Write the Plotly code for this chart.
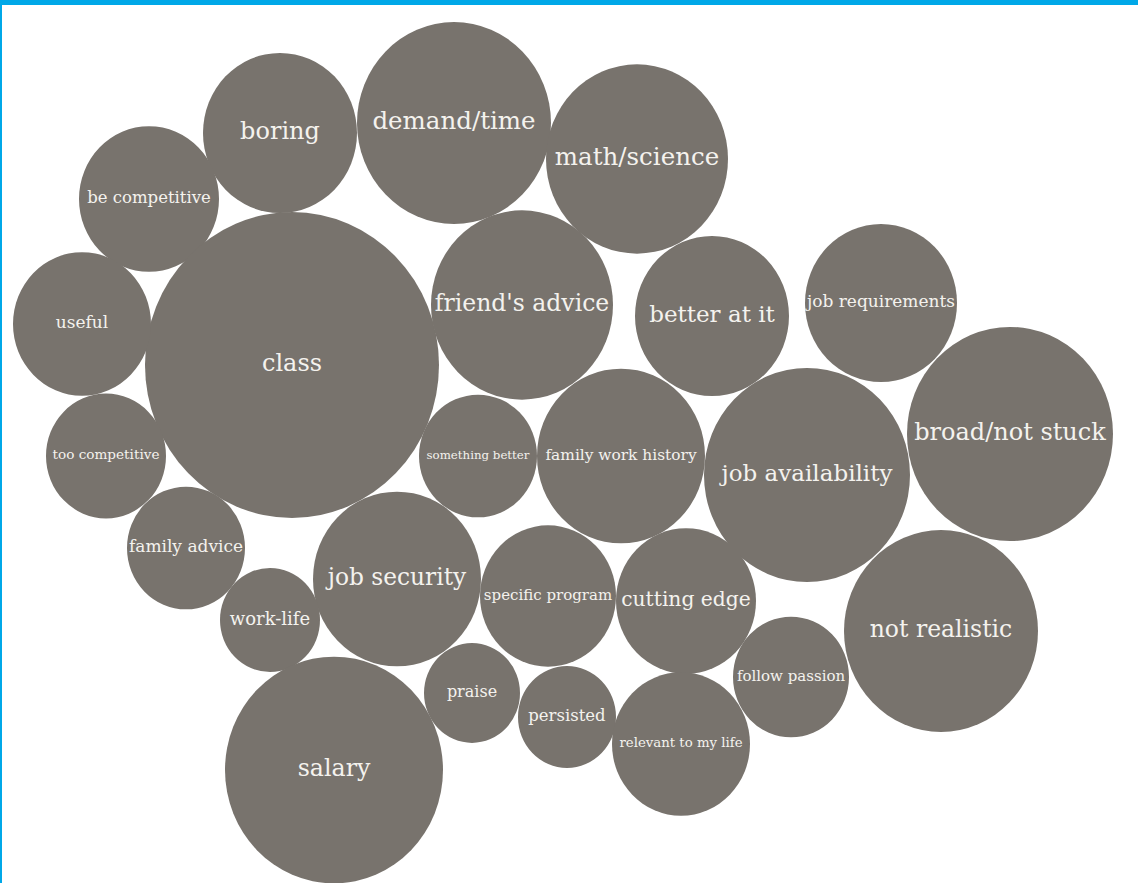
import plotly.graph_objects as go

labels = ["boring", "demand/time", "math/science", "be competitive", "class", "useful",
          "friend's advice", "better at it", "job requirements", "broad/not stuck",
          "too competitive", "something better", "family work history", "job availability",
          "family advice", "job security", "specific program", "cutting edge", "not realistic",
          "work-life", "follow passion", "praise", "persisted", "relevant to my life", "salary"]
cx = [280, 454, 637, 149, 292, 82, 522, 712, 881, 1010, 106, 478, 621, 807, 186, 397, 548, 686,
      941, 270, 791, 472, 567, 681, 334]
cy = [133, 123, 159, 199, 365, 324, 305, 316, 303, 434, 456, 456, 456, 475, 548, 579, 596, 601,
      631, 620, 677, 693, 717, 744, 770]
radius = [77, 97, 91, 70, 147, 69, 91, 77, 76, 103, 60, 59, 84, 103, 59, 84, 68, 70, 97, 50, 58,
          48, 49, 69, 109]
font_px = [24, 24.5, 24.5, 16.5, 24, 17, 23.5, 23, 17, 24, 13.6, 11.8, 15.4, 23, 17, 23.3, 15, 20.3,
           23.5, 18, 15, 16, 16.5, 13.3, 23.7]

W, H = 1138, 883
STRETCH = 1.04
FILL = "#78736d"

fig = go.Figure()
for x, y, r in zip(cx, cy, radius):
    fig.add_shape(type="circle", xref="x", yref="y",
                  x0=x - r, x1=x + r, y0=y - r * STRETCH, y1=y + r * STRETCH,
                  fillcolor=FILL, line=dict(width=0), layer="below")

fig.add_trace(go.Scatter(x=cx, y=cy, mode="text", text=labels,
                         textposition="middle center",
                         textfont=dict(family="DejaVu Serif", size=font_px, color="#f4f2ee"),
                         hoverinfo="text"))

# blue frame
fig.add_shape(type="rect", xref="paper", yref="paper", x0=0, x1=1, y0=1 - 5 / H, y1=1,
              fillcolor="#00a8e8", line=dict(width=0))
fig.add_shape(type="rect", xref="paper", yref="paper", x0=0, x1=2 / W, y0=0, y1=1,
              fillcolor="#00a8e8", line=dict(width=0))

fig.update_layout(width=W, height=H, margin=dict(l=0, r=0, t=0, b=0),
                  paper_bgcolor="white", plot_bgcolor="white", showlegend=False)
fig.update_xaxes(range=[0, W], visible=False, fixedrange=True)
fig.update_yaxes(range=[H, 0], visible=False, fixedrange=True)
fig.write_html("out.html", config={"displayModeBar": False},
               post_script="document.body.style.margin='0';document.body.style.overflow='hidden';")
